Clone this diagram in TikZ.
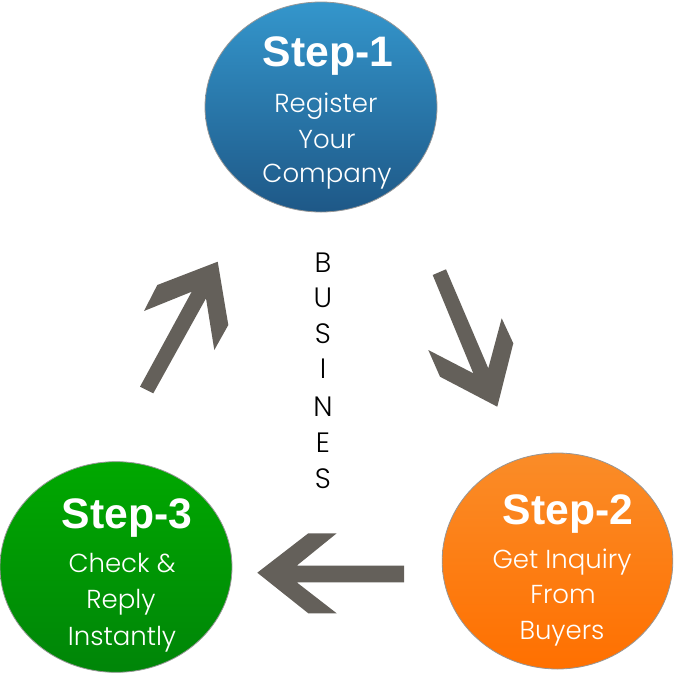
\documentclass[tikz,border=0pt]{standalone}
\usepackage{fontspec}
\setmainfont{Liberation Sans}
\newfontfamily\headfont{Liberation Sans}
\IfFontExistsTF{Poppins Light}{\newfontfamily\thinfont{Poppins Light}}{\newfontfamily\thinfont{Poppins}}
\usetikzlibrary{shapes.geometric}
\definecolor{blueTop}{RGB}{52,150,204}
\definecolor{blueBot}{RGB}{30,88,135}
\definecolor{greenTop}{RGB}{0,168,0}
\definecolor{greenBot}{RGB}{0,133,8}
\definecolor{orangeTop}{RGB}{250,140,40}
\definecolor{orangeBot}{RGB}{255,112,0}
\definecolor{arrowgray}{RGB}{100,96,90}
\definecolor{rimgray}{RGB}{150,150,150}
\tikzset{
  stepcircle/.style={ellipse, inner sep=0pt, outer sep=0pt, draw=rimgray, line width=0.6pt},
  headtext/.style={anchor=base, inner sep=0pt, text=white, font=\headfont\bfseries\fontsize{32}{32}\selectfont},
  bodytext/.style={anchor=base, inner sep=0pt, text=white, font=\thinfont\fontsize{19.5}{19.5}\selectfont},
  lettertext/.style={anchor=base, inner sep=0pt, text=black, font=\thinfont\fontsize{21}{21}\selectfont},
  blockarrow/.style={fill=arrowgray}
}
\begin{document}
\begin{tikzpicture}[x=0.75pt, y=-0.75pt]
\useasboundingbox (0,0) rectangle (687,683);
% circles
\node[stepcircle, minimum width=174pt, minimum height=157.5pt, top color=blueTop, bottom color=blueBot] (c1) at (321,107) {};
\node[stepcircle, minimum width=173pt, minimum height=162pt, top color=orangeTop, bottom color=orangeBot] (c2) at (557.5,561) {};
\node[stepcircle, minimum width=174pt, minimum height=158pt, top color=greenTop, bottom color=greenBot] (c3) at (116,567) {};
% step 1 texts
\node[headtext] (h1) at (328,66) {Step-1};
\node[bodytext] (t1a) at (326,112) {Register};
\node[bodytext] (t1b) at (327,148) {Your};
\node[bodytext] (t1c) at (327,182) {Company};
% step 2 texts
\node[headtext] (h2) at (568,524) {Step-2};
\node[bodytext] (t2a) at (562,568) {Get Inquiry};
\node[bodytext] (t2b) at (563,603) {From};
\node[bodytext] (t2c) at (562,639) {Buyers};
% step 3 texts
\node[headtext] (h3) at (127,528) {Step-3};
\node[bodytext] (t3a) at (122,572) {Check \&};
\node[bodytext] (t3b) at (121,608) {Reply};
\node[bodytext] (t3c) at (122,645) {Instantly};
% vertical word
\node[lettertext] (l1) at (323,272) {B};
\node[lettertext] (l2) at (323,307) {U};
\node[lettertext] (l3) at (323,343) {S};
\node[lettertext] (l4) at (323,378) {I};
\node[lettertext] (l5) at (323,416) {N};
\node[lettertext] (l6) at (323,452) {E};
\node[lettertext] (l7) at (323,488) {S};
% block arrows
\fill[blockarrow] (140,386.7) -- (191.7,291.7) -- (144,311) -- (157.3,285) -- (217.7,261.7) -- (228.3,325) -- (214.3,350) -- (206,298.3) -- (153.3,393.3) -- cycle;
\fill[blockarrow] (432.7,275) -- (446,269.3) -- (488.3,368.3) -- (501.7,318.3) -- (513.3,343.3) -- (497.3,406.7) -- (440,376.7) -- (428.3,350) -- (473.3,373.3) -- cycle;
\fill[blockarrow] (257.3,572.7) -- (308.3,533.3) -- (336.7,533.3) -- (296.7,565.7) -- (404,565.7) -- (404,582.3) -- (296.7,582.3) -- (336.7,613.3) -- (308.3,613.3) -- cycle;
\end{tikzpicture}
\end{document}
